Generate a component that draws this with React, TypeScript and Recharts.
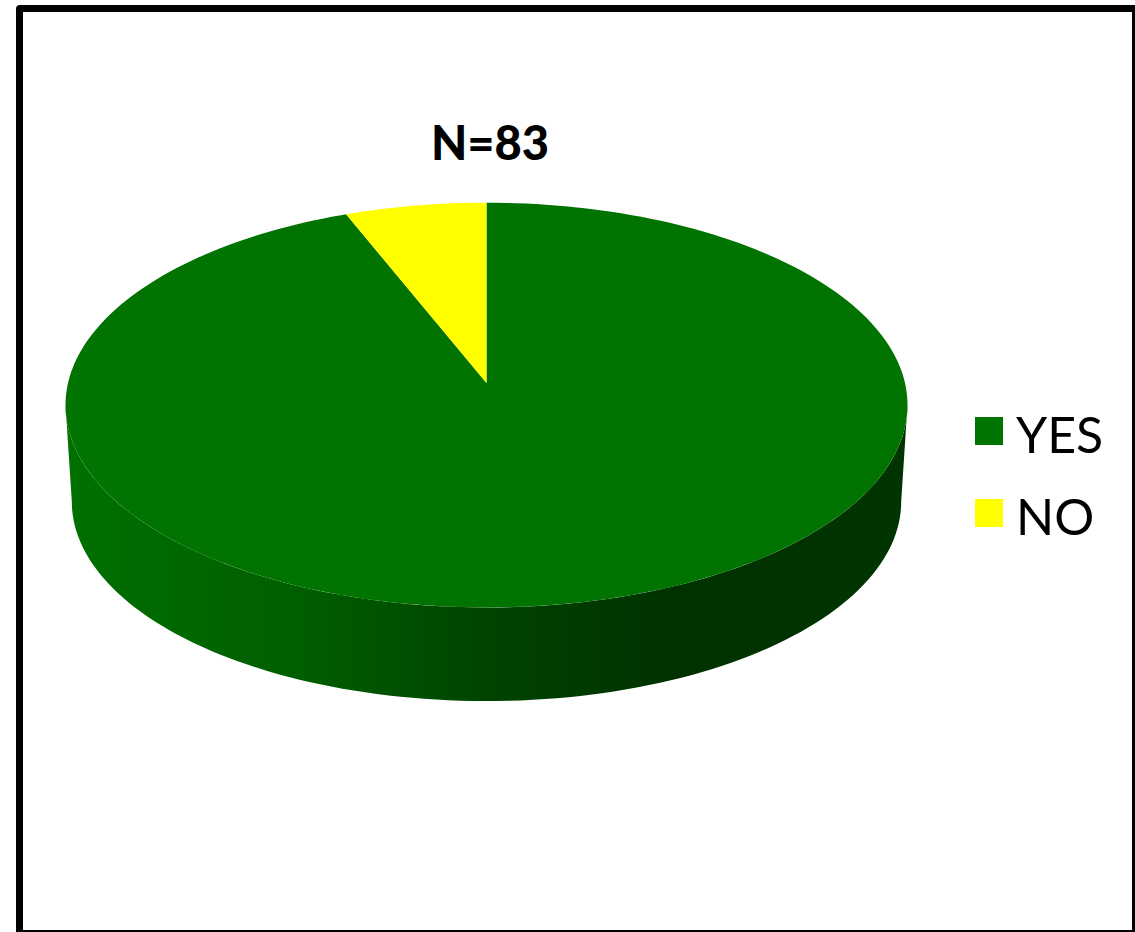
import React from 'react';
import { PieChart, Pie, Legend } from 'recharts';

const categories = ['YES', 'NO'];
const respondents = [78, 5];
const sliceColors = ['#007300', '#FFFF00'];
const chartTitle = 'N=83';

const pieData = categories.map((name, i) => ({ name, value: respondents[i], fill: sliceColors[i] }));

const FONT = 'Lato, "Open Sans", sans-serif';

// The disc is tilted away from the viewer, so the far half looks shorter.
const TILT = 0.109;
const SQUASH = 0.475;
const DEPTH = 97;
const BASE_SCALE = 0.985;
const STEP = 1.5;

type SliceProps = {
  cx: number;
  cy: number;
  outerRadius: number;
  startAngle: number;
  endAngle: number;
  fill: string;
};

// Project a clockwise angle from twelve o'clock onto the tilted disc.
const project = (p: SliceProps, deg: number, scale = 1, drop = 0) => {
  const rad = (deg * Math.PI) / 180;
  const u = Math.sin(rad);
  const v = Math.cos(rad);
  const w = 1 + TILT * v;
  const a = p.outerRadius * Math.sqrt(1 - TILT * TILT) * scale;
  const b = p.outerRadius * SQUASH * scale;
  return [p.cx + (a * u) / w, p.cy + drop - (b * v) / w];
};

const sweep = (from: number, to: number) => {
  const out: number[] = [];
  const dir = to >= from ? 1 : -1;
  for (let d = from; dir * (to - d) > 0; d += dir * STEP) out.push(d);
  out.push(to);
  return out;
};

const toPath = (pts: number[][]) =>
  pts.map(([x, y], i) => `${i ? 'L' : 'M'}${x.toFixed(2)} ${y.toFixed(2)}`).join(' ') + ' Z';

const TopFace = (props: any) => {
  const p = props as SliceProps;
  const rim = sweep(90 - p.startAngle, 90 - p.endAngle).map((d) => project(p, d));
  return <path d={toPath([[p.cx, p.cy], ...rim])} fill={p.fill} stroke="none" />;
};

// Only the part of the rim facing the viewer gets a side wall.
const SideWall = (props: any) => {
  const p = props as SliceProps;
  const edge = (Math.acos(-TILT) * 180) / Math.PI;
  const from = Math.max(90 - p.startAngle, edge);
  const to = Math.min(90 - p.endAngle, 360 - edge);
  if (to <= from) return null;
  const angles = sweep(from, to);
  const upper = angles.map((d) => project(p, d));
  const lower = [...angles].reverse().map((d) => project(p, d, BASE_SCALE, DEPTH));
  return <path d={toPath([...upper, ...lower])} fill="url(#wallShade)" stroke="none" />;
};

// Both Pie layers report the same names, so each one is listed once.
const LegendList = ({ payload }: any) => {
  const entries = categories.map((name) => (payload ?? []).find((e: any) => e.value === name)).filter(Boolean);
  return (
    <div style={{ fontFamily: FONT, fontSize: 50, color: '#000' }}>
      {entries.map((entry: any) => (
        <div key={entry.value} style={{ display: 'flex', alignItems: 'center', height: 82 }}>
          <span style={{ width: 28, height: 28, background: entry.color, marginRight: 13, marginTop: -6 }} />
          <span style={{ lineHeight: '82px' }}>{entry.value}</span>
        </div>
      ))}
    </div>
  );
};

export default function App() {
  return (
    <div style={{ position: 'absolute', left: 0, top: 0, width: 1135, height: 932, overflow: 'hidden', background: '#fff' }}>
      <div
        style={{
          position: 'absolute',
          left: 16,
          top: 5,
          width: 1123,
          height: 932,
          boxSizing: 'border-box',
          border: '7px solid #000',
          borderRadius: 4,
        }}
      />
      <PieChart width={1135} height={932} margin={{ top: 0, right: 0, bottom: 0, left: 0 }} style={{ position: 'absolute', left: 0, top: 0 }}>
        <defs>
          <linearGradient id="wallShade" gradientUnits="userSpaceOnUse" x1="66" y1="0" x2="907" y2="0">
            <stop offset="0" stopColor="#007000" />
            <stop offset="0.28" stopColor="#005E00" />
            <stop offset="0.5" stopColor="#004400" />
            <stop offset="0.72" stopColor="#003200" />
            <stop offset="1" stopColor="#003400" />
          </linearGradient>
        </defs>
        <Pie
          data={pieData}
          dataKey="value"
          nameKey="name"
          cx={486.5}
          cy={383}
          outerRadius={421}
          startAngle={90}
          endAngle={-270}
          legendType="none"
          shape={SideWall}
          isAnimationActive={false}
        />
        <Pie
          data={pieData}
          dataKey="value"
          nameKey="name"
          cx={486.5}
          cy={383}
          outerRadius={421}
          startAngle={90}
          endAngle={-270}
          shape={TopFace}
          isAnimationActive={false}
        />
        <Legend
          layout="vertical"
          align="right"
          verticalAlign="top"
          content={LegendList}
          wrapperStyle={{ left: 975, right: 'auto', top: 393, width: 150 }}
        />
        <text x={490} y={160} textAnchor="middle" fontFamily={FONT} fontWeight={900} fontSize={47} fill="#000">
          {chartTitle}
        </text>
      </PieChart>
    </div>
  );
}
